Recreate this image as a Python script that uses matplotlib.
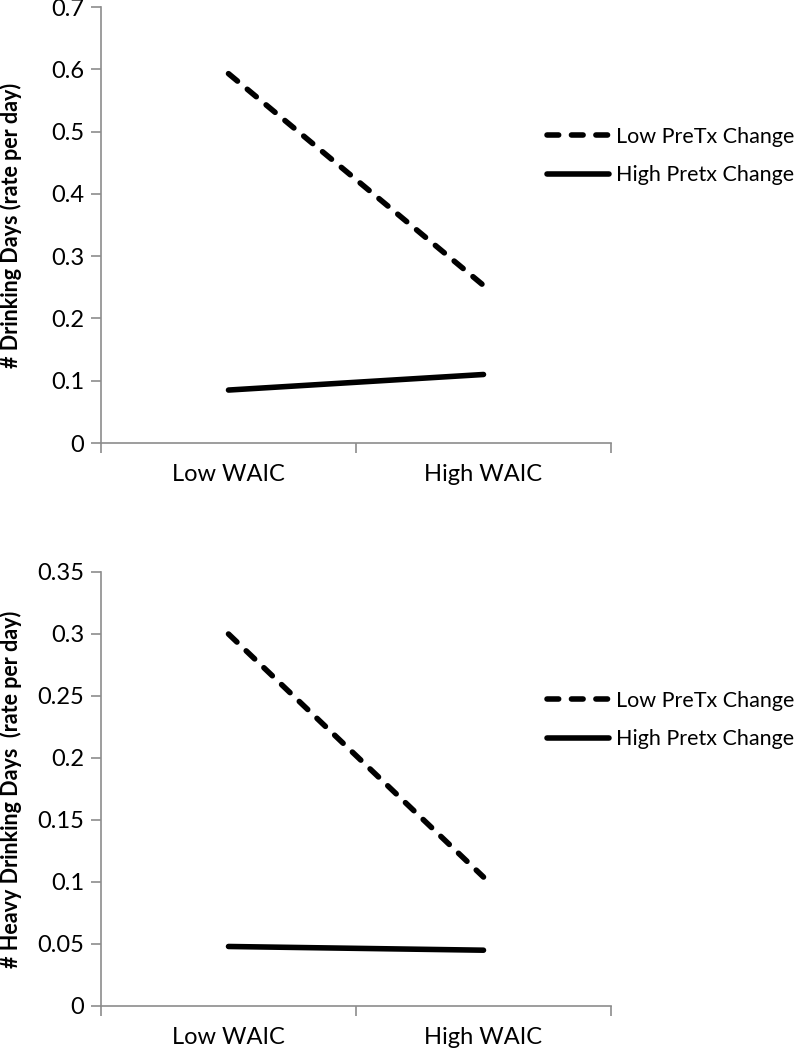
import numpy as np
import matplotlib.pyplot as plt

categories = ["Low WAIC", "High WAIC"]
series_names = ["Low PreTx Change", "High Pretx Change"]

# top panel: # drinking days
drink_low_pretx = [0.593, 0.253]
drink_high_pretx = [0.085, 0.110]

# bottom panel: # heavy drinking days
heavy_low_pretx = [0.300, 0.104]
heavy_high_pretx = [0.048, 0.045]

plt.rcParams['font.family'] = ['Lato', 'DejaVu Sans']

grey = "#8c8c8c"
fs = 17

fig = plt.figure(figsize=(7.96, 10.5), dpi=100)
ax1 = fig.add_axes([101 / 796, 1 - 443 / 1050, 510 / 796, 436 / 1050])
ax2 = fig.add_axes([101 / 796, 1 - 1006 / 1050, 510 / 796, 434 / 1050])


def style_axis(ax, ymax, ystep, ylabel, low, high, legend_y):
    x = np.arange(len(categories)) + 0.5
    ax.plot(x, low, color="black", lw=4, linestyle=(0, (2.1, 2.3)),
            dash_capstyle="round", solid_capstyle="round", label=series_names[0])
    ax.plot(x, high, color="black", lw=4, solid_capstyle="round",
            label=series_names[1])
    ax.set_xlim(0, len(categories))
    ax.set_ylim(0, ymax)
    yt = np.arange(0, ymax + ystep / 2, ystep)
    ax.set_yticks(yt)
    ax.set_yticklabels([f"{v:g}" for v in yt])
    ax.set_xticks([0, 1, 2])
    ax.set_xticklabels([])
    ax.set_xticks(x, minor=True)
    ax.set_xticklabels(categories, minor=True)
    ax.tick_params(axis="x", which="minor", length=0, pad=15, labelsize=fs)
    ax.tick_params(axis="x", which="major", length=7, width=1.2, color=grey)
    ax.tick_params(axis="y", length=7, width=1.2, color=grey, labelsize=fs, pad=5)
    for s in ["top", "right"]:
        ax.spines[s].set_visible(False)
    for s in ["left", "bottom"]:
        ax.spines[s].set_color(grey)
        ax.spines[s].set_linewidth(1.2)
    ax.set_ylabel(ylabel, fontsize=15.5, fontweight="bold")
    ax.yaxis.set_label_coords(-0.155, 0.5)
    ax.legend(loc="center left", bbox_to_anchor=(547 / 796, legend_y),
              bbox_transform=fig.transFigure, frameon=False, fontsize=15.5,
              handlelength=2.9, handletextpad=0.3, labelspacing=0.85,
              borderaxespad=0, borderpad=0)


style_axis(ax1, 0.7, 0.1, "# Drinking Days (rate per day)",
           drink_low_pretx, drink_high_pretx, 1 - 156 / 1050)
style_axis(ax2, 0.35, 0.05, "# Heavy Drinking Days  (rate per day)",
           heavy_low_pretx, heavy_high_pretx, 1 - 720 / 1050)

fig.savefig("out.png", dpi=100)
